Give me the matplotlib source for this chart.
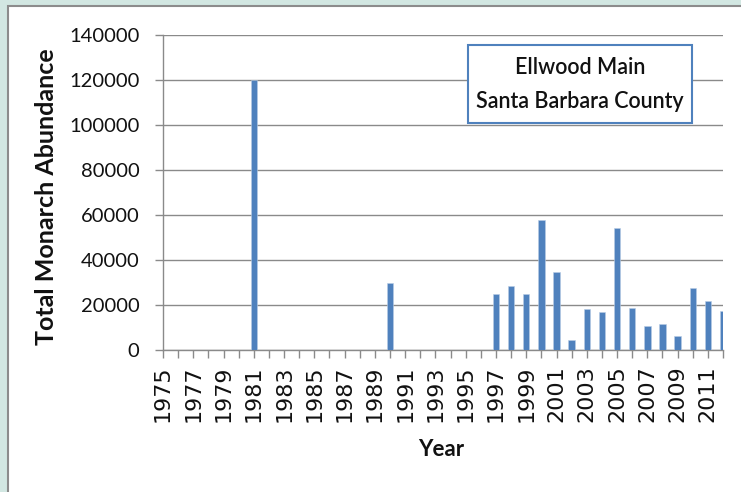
import matplotlib
matplotlib.use("Agg")
import matplotlib.pyplot as plt
from matplotlib.patches import Rectangle

# Survey data: Ellwood Main overwintering site
category_years = list(range(1975, 2013))
survey_years = [1981, 1990, 1997, 1998, 1999, 2000, 2001, 2002, 2003,
                2004, 2005, 2006, 2007, 2008, 2009, 2010, 2011, 2012]
monarch_counts = [120000, 29700, 24700, 28300, 24700, 57800, 34800, 4600, 18200,
                  16700, 54400, 18700, 10700, 11700, 6200, 27700, 21800, 17200]
tick_labels = [str(y) if (y - 1975) % 2 == 0 else "" for y in category_years]
y_ticks = [0, 20000, 40000, 60000, 80000, 100000, 120000, 140000]
title_lines = ["Ellwood Main", "Santa Barbara County"]

W, H = 741, 492
fig = plt.figure(figsize=(W / 100, H / 100), dpi=100)
fig.patch.set_facecolor("#d2e7e2")

# white chart panel with grey frame
panel = Rectangle((8 / W, -0.01), 1.0, 1 - 6 / H + 0.01, transform=fig.transFigure,
                  facecolor="white", edgecolor="#8c8c8c", linewidth=1.5, zorder=-1)
fig.patches.append(panel)

ax = fig.add_axes([163 / W, 1 - 350 / H, (723 - 163) / W, (350 - 35) / H])
ax.set_facecolor("none")
ax.set_zorder(1)

grid_col = "#8a8a8a"
ax.bar(survey_years, monarch_counts, width=0.42, color="#4f81bd",
       edgecolor="#b9cde5", linewidth=0.4, zorder=3)

ax.set_xlim(category_years[0], category_years[-1])
ax.set_ylim(y_ticks[0], y_ticks[-1])
ax.set_yticks(y_ticks)
ax.set_yticklabels([str(v) for v in y_ticks], fontfamily="Lato", fontsize=14.5)
ax.set_xticks(category_years)
ax.set_xticklabels(tick_labels, rotation=90, fontfamily="DejaVu Sans", fontsize=16)

ax.grid(axis="y", color=grid_col, linewidth=1.0, zorder=1)
ax.set_axisbelow(True)
for s in ("top", "right"):
    ax.spines[s].set_visible(False)
for s in ("left", "bottom"):
    ax.spines[s].set_color(grid_col)
    ax.spines[s].set_linewidth(1.0)
ax.tick_params(axis="y", direction="out", length=6, width=1, color=grid_col, pad=11)
ax.tick_params(axis="x", direction="out", length=6, width=1, color=grid_col, pad=5)
for lbl in ax.get_xticklabels() + ax.get_yticklabels():
    lbl.set_color("#111111")

# axis titles
fig.text(47 / W, 1 - 197 / H, "Total Monarch Abundance", rotation=90,
         ha="center", va="center", fontfamily="Lato", fontweight="bold",
         fontsize=18, color="#111111")
fig.text(441 / W, 1 - 450 / H, "Year", ha="center", va="center",
         fontfamily="Lato", fontweight="bold", fontsize=16, color="#111111")

# title box
box = Rectangle((468 / W, 1 - 123 / H), (692 - 468) / W, (123 - 45) / H,
                transform=fig.transFigure, facecolor="white",
                edgecolor="#4f81bd", linewidth=1.5, zorder=5)
fig.patches.append(box)
fig.text(580 / W, 1 - 68 / H, title_lines[0], ha="center", va="center",
         fontfamily="Lato", fontweight="semibold", fontsize=15.5,
         color="#111111", zorder=6)
fig.text(580 / W, 1 - 101 / H, title_lines[1], ha="center", va="center",
         fontfamily="Lato", fontweight="semibold", fontsize=15.5,
         color="#111111", zorder=6)

fig.savefig("out.png", dpi=100, facecolor=fig.get_facecolor())
